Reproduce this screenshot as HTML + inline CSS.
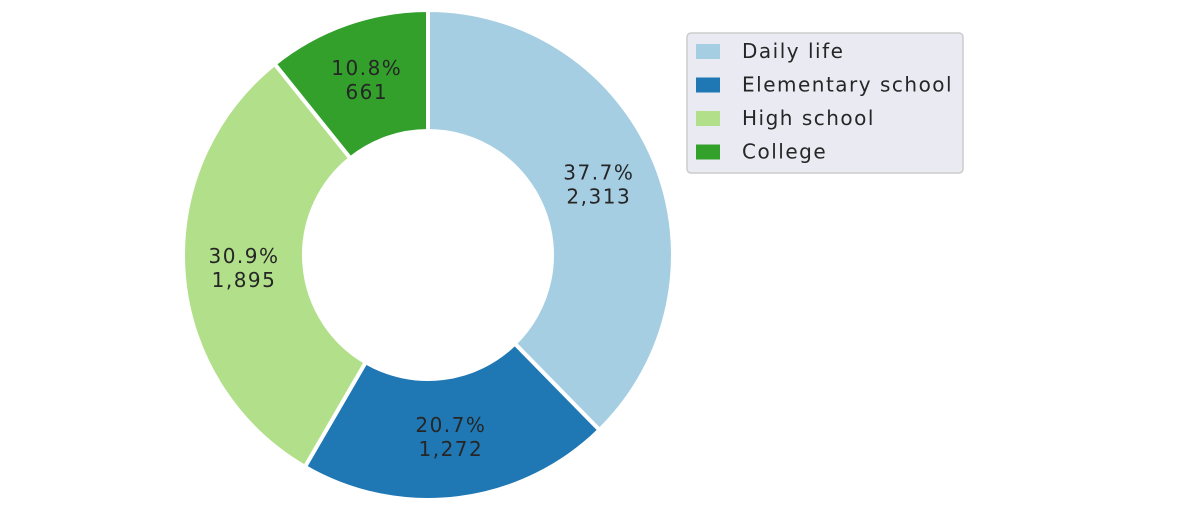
<!DOCTYPE html>
<html><head><meta charset="utf-8"><style>
body{margin:0;background:#fff;width:1182px;height:526px;overflow:hidden}
svg{display:block;font-family:"DejaVu Sans","Liberation Sans",sans-serif}
text{letter-spacing:1.5px}
</style></head><body>
<svg id="c" width="1182" height="526"></svg>
<script>
const categories=["Daily life","Elementary school","High school","College"];
const values=[2313,1272,1895,661];
const colors=["#a6cee3","#1f78b4","#b2df8a","#33a02c"];
const svg=document.getElementById('c');
const NS="http://www.w3.org/2000/svg";
const cx=428,cy=255,R=245,r=124;
const total=values.reduce((a,b)=>a+b,0);
function pt(rad,a){return [cx+rad*Math.sin(a),cy-rad*Math.cos(a)];}
let a0=0;
values.forEach((v,i)=>{
  const a1=a0+v/total*2*Math.PI;
  const large=(a1-a0)>Math.PI?1:0;
  const [x1,y1]=pt(R,a0),[x2,y2]=pt(R,a1),[x3,y3]=pt(r,a1),[x4,y4]=pt(r,a0);
  const p=document.createElementNS(NS,'path');
  p.setAttribute('d',`M${x1},${y1}A${R},${R} 0 ${large} 1 ${x2},${y2}L${x3},${y3}A${r},${r} 0 ${large} 0 ${x4},${y4}Z`);
  p.setAttribute('fill',colors[i]);p.setAttribute('stroke','#fff');p.setAttribute('stroke-width','4');
  
  
  svg.appendChild(p);
  const am=(a0+a1)/2;const [lx,ly]=pt((R+r)/2,am);
  const t=document.createElementNS(NS,'text');
  t.setAttribute('x',lx);t.setAttribute('text-anchor','middle');t.setAttribute('font-size','20');t.setAttribute('fill','#262626');
  
  
  const s1=document.createElementNS(NS,'tspan');s1.setAttribute('x',lx);s1.setAttribute('y',ly-6);s1.textContent=(v/total*100).toFixed(1)+'%';
  const s2=document.createElementNS(NS,'tspan');s2.setAttribute('x',lx);s2.setAttribute('y',ly+18);s2.textContent=v.toLocaleString('en-US');
  t.appendChild(s1);t.appendChild(s2);svg.appendChild(t);
  a0=a1;
});
const lg=document.createElementNS(NS,'g');


svg.appendChild(lg);
const box=document.createElementNS(NS,'rect');
box.setAttribute('x',687);box.setAttribute('y',33);box.setAttribute('width',276);box.setAttribute('height',140);box.setAttribute('rx',4);
box.setAttribute('fill','#eaeaf2');box.setAttribute('stroke','#cccccc');box.setAttribute('stroke-width','1.5');
lg.appendChild(box);
categories.forEach((c,i)=>{
  const y=51+i*33.5;
  const sw=document.createElementNS(NS,'rect');
  sw.setAttribute('x',696);sw.setAttribute('y',y-7);sw.setAttribute('width',24);sw.setAttribute('height',15);sw.setAttribute('fill',colors[i]);
  
  
  lg.appendChild(sw);
  const t=document.createElementNS(NS,'text');
  t.setAttribute('x',742);t.setAttribute('y',y+7);t.setAttribute('font-size','20');t.setAttribute('fill','#262626');t.textContent=c;
  
  
  lg.appendChild(t);
});
</script>
</body></html>
